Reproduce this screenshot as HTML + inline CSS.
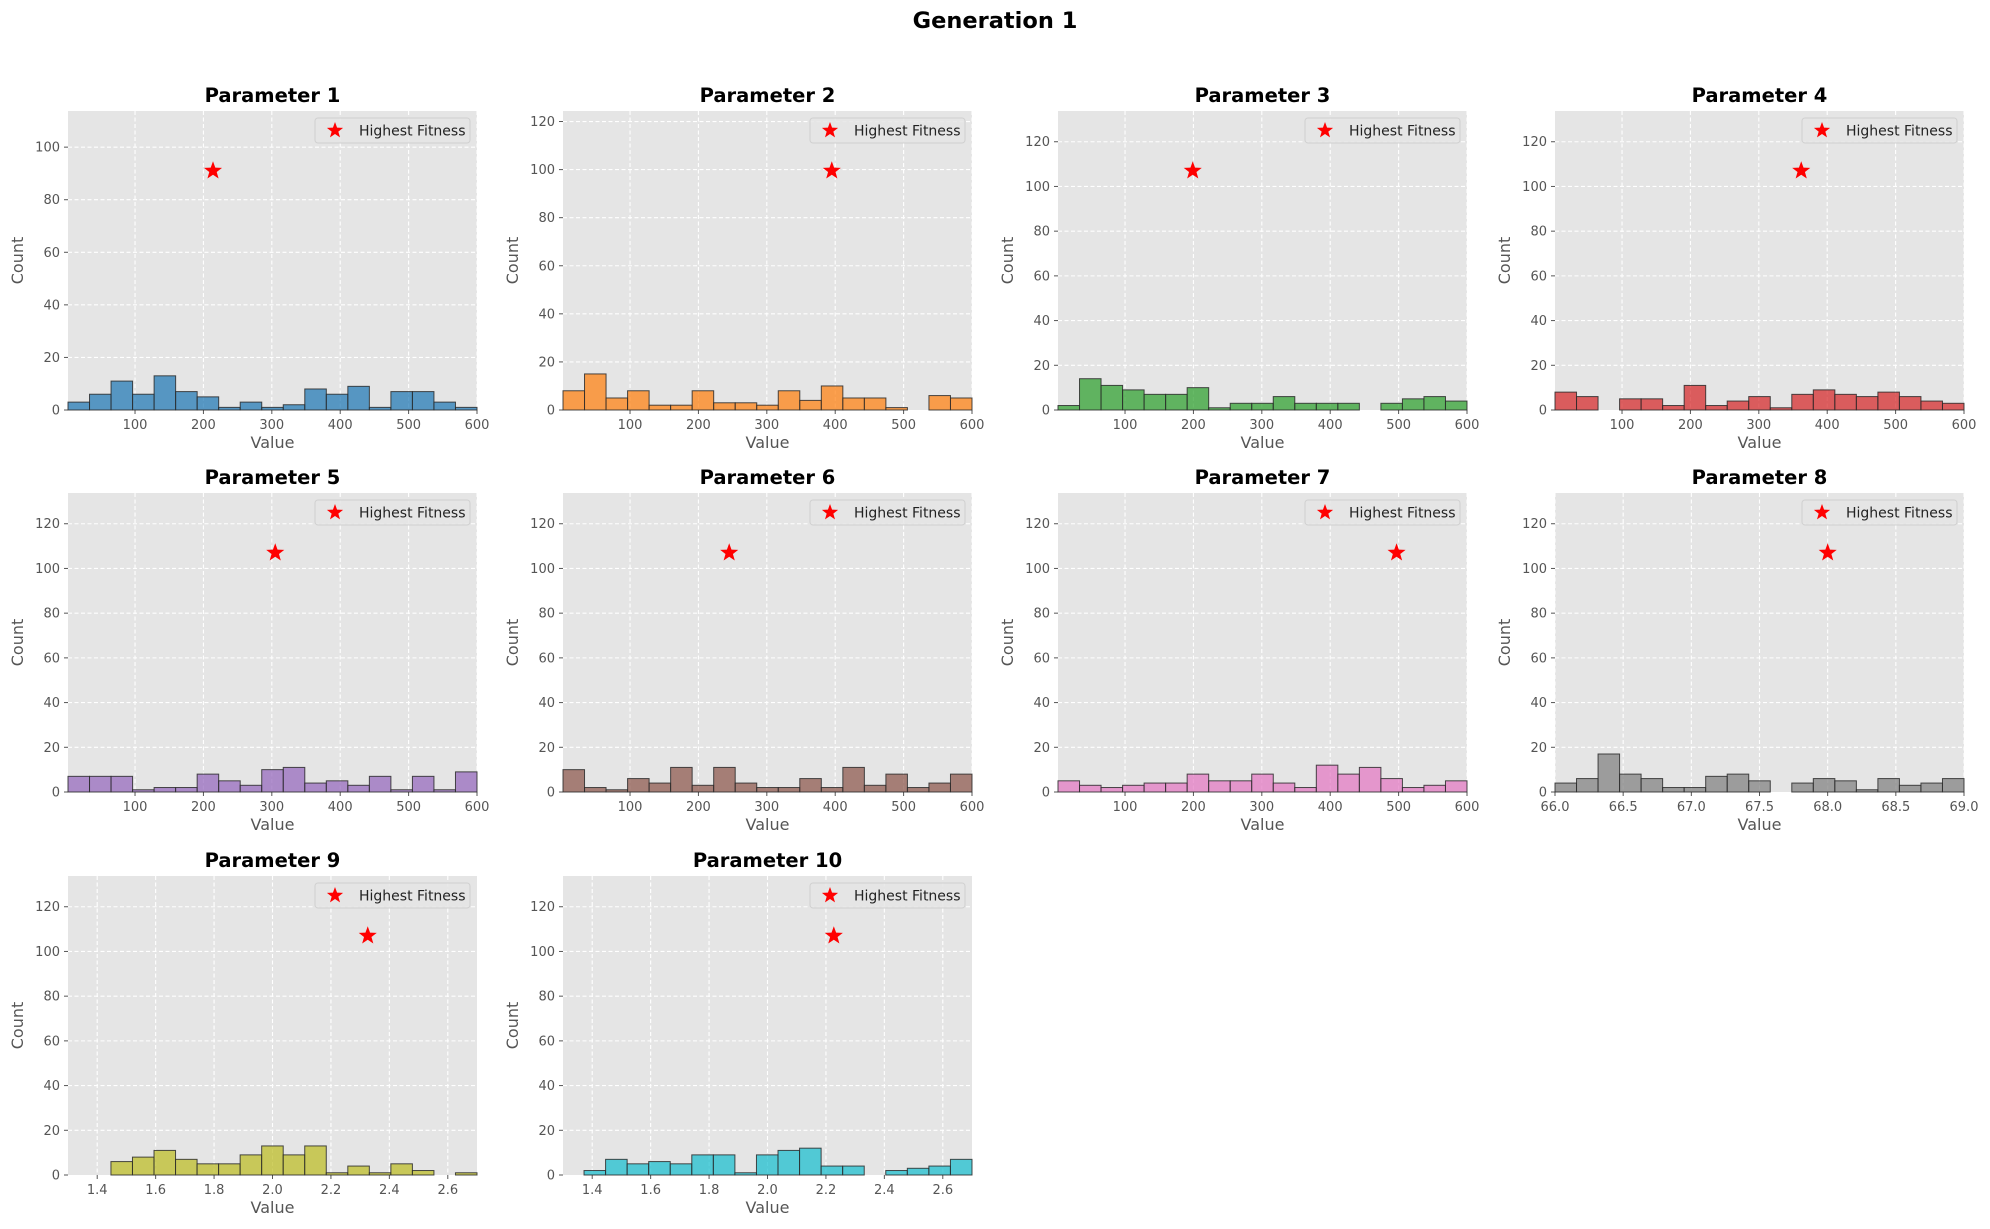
<!DOCTYPE html>
<html><head><meta charset="utf-8"><style>
html,body{margin:0;padding:0;background:#fff;}
svg{display:block;font-family:"DejaVu Sans","Liberation Sans",sans-serif;}
</style></head><body>
<svg id="chart" width="1990" height="1229" viewBox="0 0 1990 1229" xmlns="http://www.w3.org/2000/svg">
<rect x="0" y="0" width="1990" height="1229" fill="#fff"/>
<text x="995" y="28" text-anchor="middle" font-size="22.5" font-weight="bold" fill="#000">Generation 1</text>
</svg>
<script>
const panelTitles = ["Parameter 1","Parameter 2","Parameter 3","Parameter 4","Parameter 5","Parameter 6","Parameter 7","Parameter 8","Parameter 9","Parameter 10"];
const counts1 = [3,6,11,6,13,7,5,1,3,1,2,8,6,9,1,7,7,3,1];
const counts2 = [8,15,5,8,2,2,8,3,3,2,8,4,10,5,5,1,0,6,5];
const counts3 = [2,14,11,9,7,7,10,1,3,3,6,3,3,3,0,3,5,6,4];
const counts4 = [8,6,0,5,5,2,11,2,4,6,1,7,9,7,6,8,6,4,3];
const counts5 = [7,7,7,1,2,2,8,5,3,10,11,4,5,3,7,1,7,1,9];
const counts6 = [10,2,1,6,4,11,3,11,4,2,2,6,2,11,3,8,2,4,8];
const counts7 = [5,3,2,3,4,4,8,5,5,8,4,2,12,8,11,6,2,3,5];
const counts8 = [4,6,17,8,6,2,2,7,8,5,0,4,6,5,1,6,3,4,6];
const counts9 = [6,8,11,7,5,5,9,13,9,13,1,4,1,5,2,0,1];
const counts10 = [2,7,5,6,5,9,9,1,9,11,12,4,4,0,2,3,4,7];
const allCounts = [counts1,counts2,counts3,counts4,counts5,counts6,counts7,counts8,counts9,counts10];
const binStarts = [2,2,2,2,2,2,2,66,1.447,1.372];
const binEnds = [600,600,600,600,600,600,600,69,2.70,2.70];
const xMins = [2,2,2,2,2,2,2,66,1.3,1.3];
const xMaxs = [600,600,600,600,600,600,600,69,2.7,2.7];
const bestX = [214,395,199,362,305,245,497,68.0,2.326,2.227];
const bestY = [91,99.5,107,107,107,107,107,107,107,107];
const ticks600 = ["100","200","300","400","500","600"];
const ticks69 = ["66.0","66.5","67.0","67.5","68.0","68.5","69.0"];
const ticks27 = ["1.4","1.6","1.8","2.0","2.2","2.4","2.6"];
const xTickSets = [ticks600,ticks600,ticks600,ticks600,ticks600,ticks600,ticks600,ticks69,ticks27,ticks27];
const yTicks = [0,20,40,60,80,100,120];
const colors = ["#1f77b4","#ff7f0e","#2ca02c","#d62728","#9467bd","#8c564b","#e377c2","#7f7f7f","#bcbd22","#17becf"];

const NS = "http://www.w3.org/2000/svg";
const svg = document.getElementById("chart");
const colL = [68,563,1058,1555], rowT = [111,493,876], AW = 409, AH = 299;
function mk(tag, attrs, parent){const e=document.createElementNS(NS,tag);for(const k in attrs)e.setAttribute(k,attrs[k]);(parent||svg).appendChild(e);return e;}
function starPts(cx,cy,R,r){let p=[];for(let i=0;i<10;i++){const a=-Math.PI/2+i*Math.PI/5;const rr=i%2?r:R;p.push((cx+rr*Math.cos(a)).toFixed(2)+","+(cy+rr*Math.sin(a)).toFixed(2));}return p.join(" ");}

for(let p=0;p<10;p++){
  const L=colL[p%4], T=rowT[Math.floor(p/4)];
  const g=mk("g",{});
  
  
  const x0=xMins[p], x1=xMaxs[p], yMax=bestY[p]*1.25;
  const xs=v=>L+(v-x0)/(x1-x0)*AW;
  const ys=v=>T+AH-v/yMax*AH;
  const bg=mk("rect",{x:L,y:T,width:AW,height:AH,fill:"#e5e5e5"},g);
  
  
  xTickSets[p].forEach(t=>{
    const v=parseFloat(t), x=xs(v);
    mk("line",{x1:x,y1:T,x2:x,y2:T+AH,stroke:"#fff","stroke-width":1.1,"stroke-dasharray":"4,2.5"},g);
    mk("line",{x1:x,y1:T+AH,x2:x,y2:T+AH+4,stroke:"#555","stroke-width":1},g);
    const tl=mk("text",{x:x,y:T+AH+19,"text-anchor":"middle","font-size":13,fill:"#555"},g);
    tl.textContent=t;
    
    
  });
  yTicks.filter(v=>v<=yMax).forEach(v=>{
    const y=ys(v);
    if(v>0) mk("line",{x1:L,y1:y,x2:L+AW,y2:y,stroke:"#fff","stroke-width":1.1,"stroke-dasharray":"4,2.5"},g);
    mk("line",{x1:L-4,y1:y,x2:L,y2:y,stroke:"#555","stroke-width":1},g);
    const tl=mk("text",{x:L-8,y:y+4.5,"text-anchor":"end","font-size":13,fill:"#555"},g);
    tl.textContent=String(v);
    
    
  });
  const c=allCounts[p], n=c.length, bw=(binEnds[p]-binStarts[p])/n;
  c.forEach((v,i)=>{
    if(v<=0) return;
    const xa=xs(binStarts[p]+i*bw), xb=xs(binStarts[p]+(i+1)*bw);
    const r=mk("rect",{x:xa,y:ys(v),width:xb-xa,height:ys(0)-ys(v),fill:colors[p],"fill-opacity":0.72,stroke:"#2a2a2a","stroke-opacity":0.85,"stroke-width":1},g);
    
    
  });
  const st=mk("polygon",{points:starPts(xs(bestX[p]),ys(bestY[p]),9.5,3.9),fill:"#ff0000"},g);
  
  
  const lg=mk("g",{},g);
  
  
  const lx=L+AW-162, ly=T+7;
  mk("rect",{x:lx,y:ly,width:155,height:25,rx:3,fill:"#e5e5e5","fill-opacity":0.85,stroke:"#d0d0d0","stroke-width":1},lg);
  mk("polygon",{points:starPts(lx+20,ly+12.5,8.5,3.5),fill:"#ff0000"},lg);
  const lt=mk("text",{x:lx+44,y:ly+17.5,"font-size":14,fill:"#222"},lg);
  lt.textContent="Highest Fitness";
  
  
  const tt=mk("text",{x:L+AW/2,y:T-9,"text-anchor":"middle","font-size":19.5,"font-weight":"bold",fill:"#000"},g);
  tt.textContent=panelTitles[p];
  
  
  const xl=mk("text",{x:L+AW/2,y:T+AH+38,"text-anchor":"middle","font-size":16,fill:"#555"},g);
  xl.textContent="Value";
  
  
  const yl=mk("text",{x:0,y:0,"text-anchor":"middle","font-size":16,fill:"#555",transform:"translate("+(L-45)+","+(T+AH/2)+") rotate(-90)"},g);
  yl.textContent="Count";
  
  
}
</script>
</body></html>
